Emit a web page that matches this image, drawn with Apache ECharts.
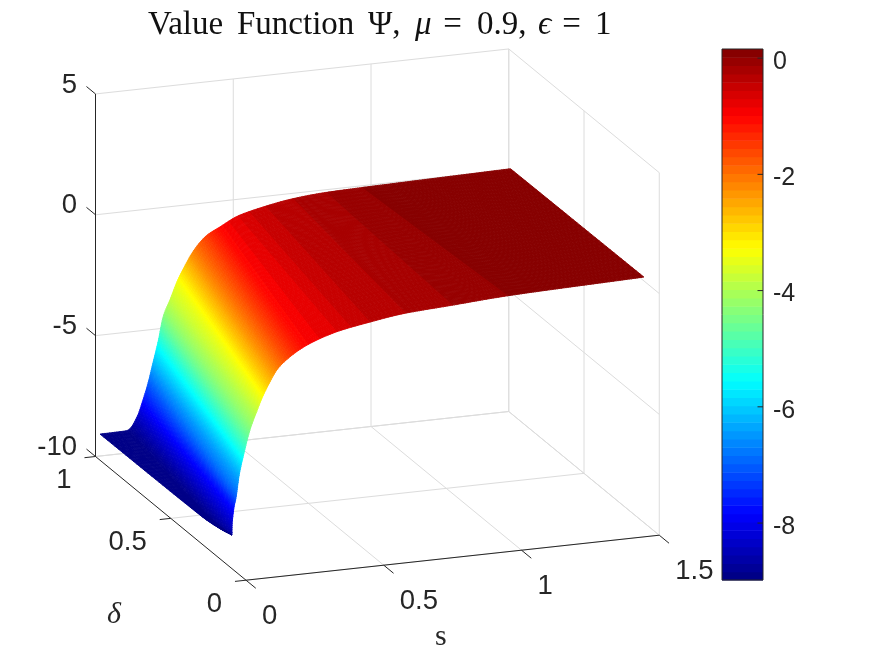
<!DOCTYPE html>
<html><head><meta charset="utf-8">
<style>html,body{margin:0;padding:0;background:#fff}#c{width:875px;height:656px}</style>
<script src="https://cdn.jsdelivr.net/npm/echarts@6/dist/echarts.min.js"></script>
</head><body><div id="c"></div>
<script>
// The surface:
// for each colour level, the (s, height) where it meets the back edge and the front edge.
const colourLevels=[-8.92,-8.9,-8.4,-7.7,-7,-6.2,-5.3,-4.4,-3.8,-3.36,-2.7,-2.1,-1.5,-1.0,-.7,-.415,-.272,-.129,.014,.157];
const sBack =[0,.095,.134,.156,.175,.192,.212,.229,.255,.28,.31,.34,.385,.44,.5,.6,.7,.82,.95,1.49];
const zBack =[-8.92,-8.9,-8.38,-7.7,-7,-6.22,-5.3,-4.36,-3.65,-2.95,-2.3,-1.75,-1.2,-.86,-.52,-.24,-.05,.06,.1,.21];
const sFront=[0,0,0,.007,.015,.027,.043,.065,.09,.108,.135,.165,.21,.27,.38,.5,.63,.8,1.0,1.495];
const zFront=[-8.92,-8.92,-8.3,-7.5,-7.05,-6.1,-5.3,-4.35,-3.6,-3.1,-2.5,-1.95,-1.5,-1.1,-.67,-.42,-.21,-.09,.05,.21];
const deltaBack=.97, deltaFront=.093;
// lowest height of the surface along its s=0 edge
const floorDelta=[.093,.17,.3,.97];
const floorZ=[-8.6,-8.75,-8.87,-8.92];
const sTicks=[0,.5,1,1.5], deltaTicks=[0,.5,1], zTicks=[-10,-5,0,5];
const cbarTicks=[-8,-6,-4,-2,0];
const cMin=-8.98, cMax=0.157, nColors=64;
const titleParts=['Value ','Function ','Ψ, ','μ',' = ','0.9, ','ϵ',' = ','1'];
const sName='s', deltaName='δ';

// MATLAB jet colormap
function jetAt(t){const f=v=>Math.round(255*Math.max(0,Math.min(1,v)));
  return `rgb(${f(1.5-Math.abs(4*t-3))},${f(1.5-Math.abs(4*t-2))},${f(1.5-Math.abs(4*t-1))})`;}
const cmap=Array.from({length:nColors},(_,i)=>jetAt((i+.5)/nColors));
const colorOf=c=>{const t=Math.max(0,Math.min(.9999,(c-cMin)/(cMax-cMin)));
  return c<-1?jetAt(t):cmap[Math.floor(t*nColors)];};

// orthographic view of the 3-D box onto the page plane
const view={ox:246,oy:580.2,sx:275.5,sy:-30,dx:-150.5,dy:-123.7,zy:-24.17};
const proj=(s,d,z)=>[view.ox+view.sx*s+view.dx*d, view.oy+view.sy*s+view.dy*d+view.zy*(z+10)];

// monotone cubic through the read values, only used to draw smoothly
function slopes(x,y){const n=x.length,h=[],m=[],t=new Array(n);
  for(let i=0;i<n-1;i++){h[i]=x[i+1]-x[i];m[i]=(y[i+1]-y[i])/h[i];}
  t[0]=m[0];t[n-1]=m[n-2];
  for(let i=1;i<n-1;i++){t[i]=m[i-1]*m[i]<=0?0:(h[i-1]+h[i])*3/((2*h[i]+h[i-1])/m[i-1]+(h[i]+2*h[i-1])/m[i]);}
  return t;}
function herm(x,y,t,i,u){const h=x[i+1]-x[i],u2=u*u,u3=u2*u;
  return (2*u3-3*u2+1)*y[i]+(u3-2*u2+u)*h*t[i]+(-2*u3+3*u2)*y[i+1]+(u3-u2)*h*t[i+1];}
const idx=colourLevels.map((_,i)=>i);
const cols=[sBack,zBack,sFront,zFront,colourLevels].map(a=>({a,t:slopes(idx,a)}));
const mesh=[];
for(let i=0;i<idx.length-1;i++){
  const dx=(sBack[i+1]-sBack[i])*275, dy=(zBack[i+1]-zBack[i])*24;
  const dx2=(sFront[i+1]-sFront[i])*275, dy2=(zFront[i+1]-zFront[i])*24;
  const len=Math.max(Math.hypot(dx,dy),Math.hypot(dx2,dy2));
  const n=Math.max(1,Math.ceil(len/2.2));
  for(let k=0;k<n;k++){const u=k/n;mesh.push(cols.map(c=>herm(idx,c.a,c.t,i,u)));}
}
mesh.push([sBack,zBack,sFront,zFront,colourLevels].map(a=>a[a.length-1]));
const floorT=slopes(floorDelta,floorZ);
function floorAt(d){let i=0;while(i<floorDelta.length-2&&d>floorDelta[i+1])i++;
  return herm(floorDelta,floorZ,floorT,i,(d-floorDelta[i])/(floorDelta[i+1]-floorDelta[i]));}
const nStrip=36;
function vert(m,v){const d=deltaBack+(deltaFront-deltaBack)*v,s=m[0]+(m[2]-m[0])*v,z=Math.max(m[1]+(m[3]-m[1])*v,floorAt(d));
  return proj(s,d,z);}

const gridC='#dcdcdc', axisC='#262626';
const lines=[];
const L=(a,b,c)=>lines.push({a,b,c});
const sLo=0,sHi=1.5,dLo=0,dHi=1,zLo=-10,zHi=5;
zTicks.forEach(z=>{L([sLo,dHi,z],[sHi,dHi,z],gridC);L([sHi,dHi,z],[sHi,dLo,z],gridC);});
sTicks.slice(1).forEach(s=>{L([s,dHi,zLo],[s,dHi,zHi],gridC);L([s,dLo,zLo],[s,dHi,zLo],gridC);});
deltaTicks.forEach(d=>{L([sLo,d,zLo],[sHi,d,zLo],gridC);L([sHi,d,zLo],[sHi,d,zHi],gridC);});
const axisLines=[];
const A=(a,b)=>axisLines.push({a,b});
A([sLo,dHi,zLo],[sLo,dHi,zHi]);A([sLo,dLo,zLo],[sLo,dHi,zLo]);A([sLo,dLo,zLo],[sHi,dLo,zLo]);
sTicks.forEach(s=>A([s,dLo,zLo],[s,dLo-.065,zLo]));
deltaTicks.forEach(d=>A([sLo,d,zLo],[sLo-.04,d,zLo]));
zTicks.forEach(z=>A([sLo,dHi,z],[sLo,dHi+.06,z]));

const labels=[];
const numFont='"Liberation Sans",Arial,sans-serif';
sTicks.forEach(s=>labels.push({p:proj(s,dLo,zLo),dx:16,dy:36,t:String(s),a:'left'}));
deltaTicks.forEach(d=>labels.push({p:proj(sLo,d,zLo),dx:-24,dy:24,t:String(d),a:'right'}));
zTicks.forEach(z=>labels.push({p:proj(sLo,dHi,z),dx:-18.5,dy:-9,t:String(z),a:'right'}));

const strips=Array.from({length:nStrip},(_,b)=>b);
function renderStrip(params,api){
  const b=strips[params.dataIndex],ch=[];
  const v0=b/nStrip,v1=(b+1)/nStrip;
  for(let a=mesh.length-2;a>=0;a--){
    const pts=[vert(mesh[a],v0),vert(mesh[a+1],v0),vert(mesh[a+1],v1),vert(mesh[a],v1)].map(p=>api.coord(p));
    const c=colorOf((mesh[a][4]+mesh[a+1][4])/2);
    ch.push({type:'polygon',shape:{points:pts},style:{fill:c,stroke:c,lineWidth:.9,lineJoin:'round'},silent:true});
  }
  return {type:'group',children:ch};
}
const lineItem=(l,api,w)=>{const a=api.coord(proj(...l.a)),b=api.coord(proj(...l.b));
  return {type:'line',shape:{x1:a[0],y1:a[1],x2:b[0],y2:b[1]},style:{stroke:l.c||axisC,lineWidth:w},silent:true};};

const chart=echarts.init(document.getElementById('c'),null,{renderer:'canvas'});
const serif='"Liberation Serif","Times New Roman",serif';
const tw=[89,131,47,20,42,61,16,41,14];
const rich={};
tw.forEach((w,i)=>{rich['t'+i]={fontFamily:serif,fontSize:33,fontWeight:'normal',fontStyle:(i===3||i===6)?'italic':'normal',color:'#111',width:w,align:'left',height:40};});
chart.setOption({
  animation:false,
  backgroundColor:'#fff',
  title:{left:148,top:5,padding:0,text:titleParts.map((t,i)=>`{t${i}|${t}}`).join(''),textStyle:{fontWeight:'normal',rich}},
  grid:[{left:0,top:0,width:875,height:656,show:false},{left:722,top:49,width:41,height:531,show:false}],
  xAxis:[{type:'value',min:0,max:875,show:false,gridIndex:0},{type:'value',min:0,max:1,show:false,gridIndex:1}],
  yAxis:[{type:'value',min:0,max:656,inverse:true,show:false,gridIndex:0},
    {type:'value',min:cMin,max:cMax,gridIndex:1,position:'right',splitLine:{show:false},
     axisLine:{show:false},axisTick:{show:false},axisLabel:{show:false}}],
  series:[
   {type:'custom',xAxisIndex:0,yAxisIndex:0,clip:false,silent:true,z:1,data:lines.map((_,i)=>[i,0]),
    renderItem:(p,api)=>lineItem(lines[p.dataIndex],api,1)},
   {type:'custom',xAxisIndex:0,yAxisIndex:0,clip:false,silent:true,z:2,data:axisLines.map((_,i)=>[i,0]),
    renderItem:(p,api)=>lineItem(axisLines[p.dataIndex],api,1)},
   {type:'custom',xAxisIndex:0,yAxisIndex:0,clip:false,silent:true,z:3,progressive:0,data:strips.map((_,i)=>[i,0]),renderItem:renderStrip},
   {type:'custom',xAxisIndex:0,yAxisIndex:0,clip:false,silent:true,z:4,data:labels.map((_,i)=>[i,0]),
    renderItem:(p,api)=>{const l=labels[p.dataIndex];const c=api.coord(l.p);
      return {type:'text',x:c[0]+l.dx,y:c[1]+l.dy,style:{text:l.t,align:l.a,verticalAlign:'middle',font:`27.5px ${numFont}`,fill:axisC},silent:true};}},
   {type:'custom',xAxisIndex:1,yAxisIndex:1,clip:false,silent:true,z:3,data:cmap.map((_,i)=>[i,0]),
    renderItem:(p,api)=>{const i=p.dataIndex,st=(cMax-cMin)/nColors;
      const a=api.coord([0,cMin+i*st]),b=api.coord([1,cMin+(i+1)*st]);
      return {type:'rect',shape:{x:a[0],y:b[1],width:b[0]-a[0],height:a[1]-b[1]+.5},style:{fill:cmap[i]},silent:true};}},
   {type:'custom',xAxisIndex:1,yAxisIndex:1,clip:false,silent:true,z:5,data:[[0,0]],
    renderItem:(p,api)=>{const a=api.coord([0,cMin]),b=api.coord([1,cMax]);
      return {type:'rect',shape:{x:a[0],y:b[1],width:b[0]-a[0],height:a[1]-b[1]},style:{fill:'none',stroke:axisC,lineWidth:1},silent:true};}},
   {type:'custom',xAxisIndex:1,yAxisIndex:1,clip:false,silent:true,z:5,data:cbarTicks.map(v=>[1,v]),
    renderItem:(p,api)=>{const v=api.value(1),a=api.coord([1,v]);
      return {type:'group',children:[
        {type:'line',shape:{x1:a[0]-5.5,y1:a[1],x2:a[0],y2:a[1]},style:{stroke:axisC,lineWidth:1},silent:true},
        {type:'text',x:a[0]+10,y:a[1]+4,style:{text:String(v),align:'left',verticalAlign:'middle',font:`25px ${numFont}`,fill:axisC},silent:true}]};}}
  ],
  graphic:[
   {type:'text',left:107,top:600,style:{text:deltaName,font:`italic 30px ${serif}`,fill:axisC}},
   {type:'text',left:435,top:622,style:{text:sName,font:`30px ${serif}`,fill:axisC}}
  ]
});
</script></body></html>
